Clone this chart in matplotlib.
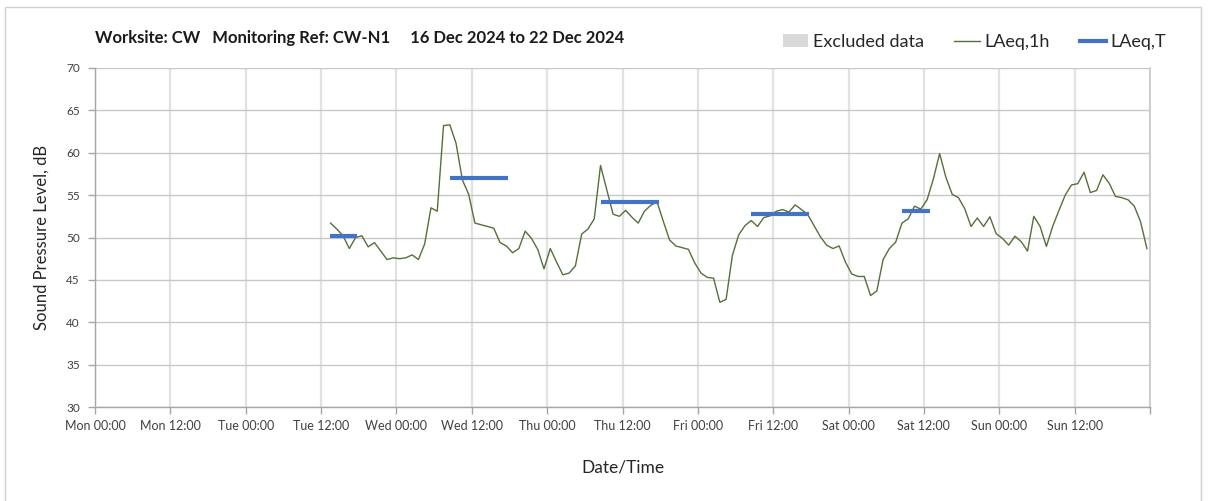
import numpy as np
import matplotlib
matplotlib.use("Agg")
import matplotlib.pyplot as plt
from matplotlib.patches import Rectangle, Patch
from matplotlib.lines import Line2D

plt.rcParams['font.family'] = ['Lato', 'DejaVu Sans']

#---data---#
# hourly LAeq,1h, first reading Tue 13:30 (hours counted from Mon 00:00)
start_hour = 37.5
laeq_1h = [51.7, 51.0, 50.2, 48.7, 50.0, 50.2, 48.9, 49.4, 48.4, 47.4,
           47.6, 47.5, 47.6, 47.95, 47.4, 49.25, 53.5, 53.1, 63.2, 63.3,
           61.1, 56.8, 55.1, 51.7, 51.5, 51.3, 51.1, 49.4, 49.0, 48.2,
           48.7, 50.75, 49.9, 48.6, 46.3, 48.7, 47.1, 45.6, 45.8, 46.65,
           50.4, 51.0, 52.2, 58.5, 55.6, 52.75, 52.5, 53.2, 52.4, 51.7,
           53.1, 53.8, 54.2, 51.9, 49.7, 49.0, 48.8, 48.6, 47.0, 45.8,
           45.3, 45.2, 42.35, 42.7, 47.9, 50.3, 51.4, 52.0, 51.3, 52.35,
           52.55, 53.1, 53.3, 53.0, 53.85, 53.3, 52.7, 51.4, 50.1, 49.1,
           48.7, 49.0, 47.1, 45.7, 45.4, 45.4, 43.15, 43.7, 47.4, 48.7,
           49.45, 51.7, 52.2, 53.7, 53.35, 54.45, 56.9, 59.9, 57.1, 55.1,
           54.7, 53.4, 51.3, 52.3, 51.3, 52.45, 50.45, 49.9, 49.1, 50.15,
           49.5, 48.4, 52.5, 51.3, 48.95, 51.3, 53.2, 55.0, 56.2, 56.35,
           57.7, 55.3, 55.55, 57.4, 56.4, 54.85, 54.7, 54.45, 53.7, 51.85,
           48.7]
hours_1h = start_hour + np.arange(len(laeq_1h))

# LAeq,T periods (start hour, end hour, level)
laeqT_start = [37.5, 56.5, 80.5, 104.5, 128.5]
laeqT_end = [41.75, 65.75, 89.75, 113.75, 133.0]
laeqT_level = [50.2, 57.0, 54.2, 52.8, 53.15]

tick_hours = list(range(0, 169, 12))
tick_labels = ['Mon 00:00', 'Mon 12:00', 'Tue 00:00', 'Tue 12:00', 'Wed 00:00',
               'Wed 12:00', 'Thu 00:00', 'Thu 12:00', 'Fri 00:00', 'Fri 12:00',
               'Sat 00:00', 'Sat 12:00', 'Sun 00:00', 'Sun 12:00', '']
y_ticks = list(range(30, 71, 5))

#---figure---#
W, H = 1208, 501
fig = plt.figure(figsize=(W / 100, H / 100), dpi=100)
ax = fig.add_axes([95 / W, 1 - 407 / H, 1055 / W, 339 / H])

green = '#55703A'
blue = '#4472C4'

ax.plot(hours_1h, laeq_1h, color=green, lw=1.0, zorder=3)
for s, e, v in zip(laeqT_start, laeqT_end, laeqT_level):
    ax.plot([s, e], [v, v], color=blue, lw=3, solid_capstyle='butt', zorder=4)

ax.set_xlim(0, 168)
ax.set_ylim(30, 70)
ax.set_xticks(tick_hours)
ax.set_xticklabels(tick_labels, fontsize=9, color='#404040')
ax.set_yticks(y_ticks)
ax.set_yticklabels([str(v) for v in y_ticks], fontsize=8.5, color='#404040')
ax.tick_params(axis='both', direction='out', length=5, color='#a6a6a6', width=1)
ax.tick_params(axis='y', pad=6)
ax.tick_params(axis='x', pad=4)

for sp in ['top', 'right']:
    ax.spines[sp].set_visible(False)
for sp in ['left', 'bottom']:
    ax.spines[sp].set_color('#a6a6a6')
    ax.spines[sp].set_linewidth(1)

ax.grid(axis='y', color='#c8c8c8', lw=1, zorder=0)
ax.grid(axis='x', color='#e2e2e2', lw=1.6, zorder=0)
ax.set_axisbelow(True)
ax.axvline(168, color='#c8c8c8', lw=1.2, clip_on=False)

ax.set_ylabel('Sound Pressure Level, dB', fontsize=12, color='#262626', labelpad=12)
ax.set_xlabel('Date/Time', fontsize=12.5, color='#262626', labelpad=20)

fig.text(95 / W, 1 - 38 / H,
         'Worksite: CW   Monitoring Ref: CW-N1     16 Dec 2024 to 22 Dec 2024',
         fontsize=12, fontweight='bold', color='#1a1a1a', ha='left', va='center')

handles = [Patch(facecolor='#d9d9d9', edgecolor='none'),
           Line2D([], [], color=green, lw=1.0),
           Line2D([], [], color=blue, lw=3)]
fig.legend(handles, ['Excluded data', 'LAeq,1h', 'LAeq,T'],
           loc='center right', bbox_to_anchor=(1182 / W, 1 - 42 / H), ncol=3,
           frameon=False, fontsize=13, handlelength=1.4, handletextpad=0.25,
           columnspacing=1.7, labelcolor='#262626')

# outer chart border
fig.add_artist(Rectangle((5 / W, -0.05), 1196 / W, 1.05 - 7 / H,
                         transform=fig.transFigure, fill=False,
                         edgecolor='#d0d0d0', lw=1))

fig.savefig('out.png', dpi=100)
